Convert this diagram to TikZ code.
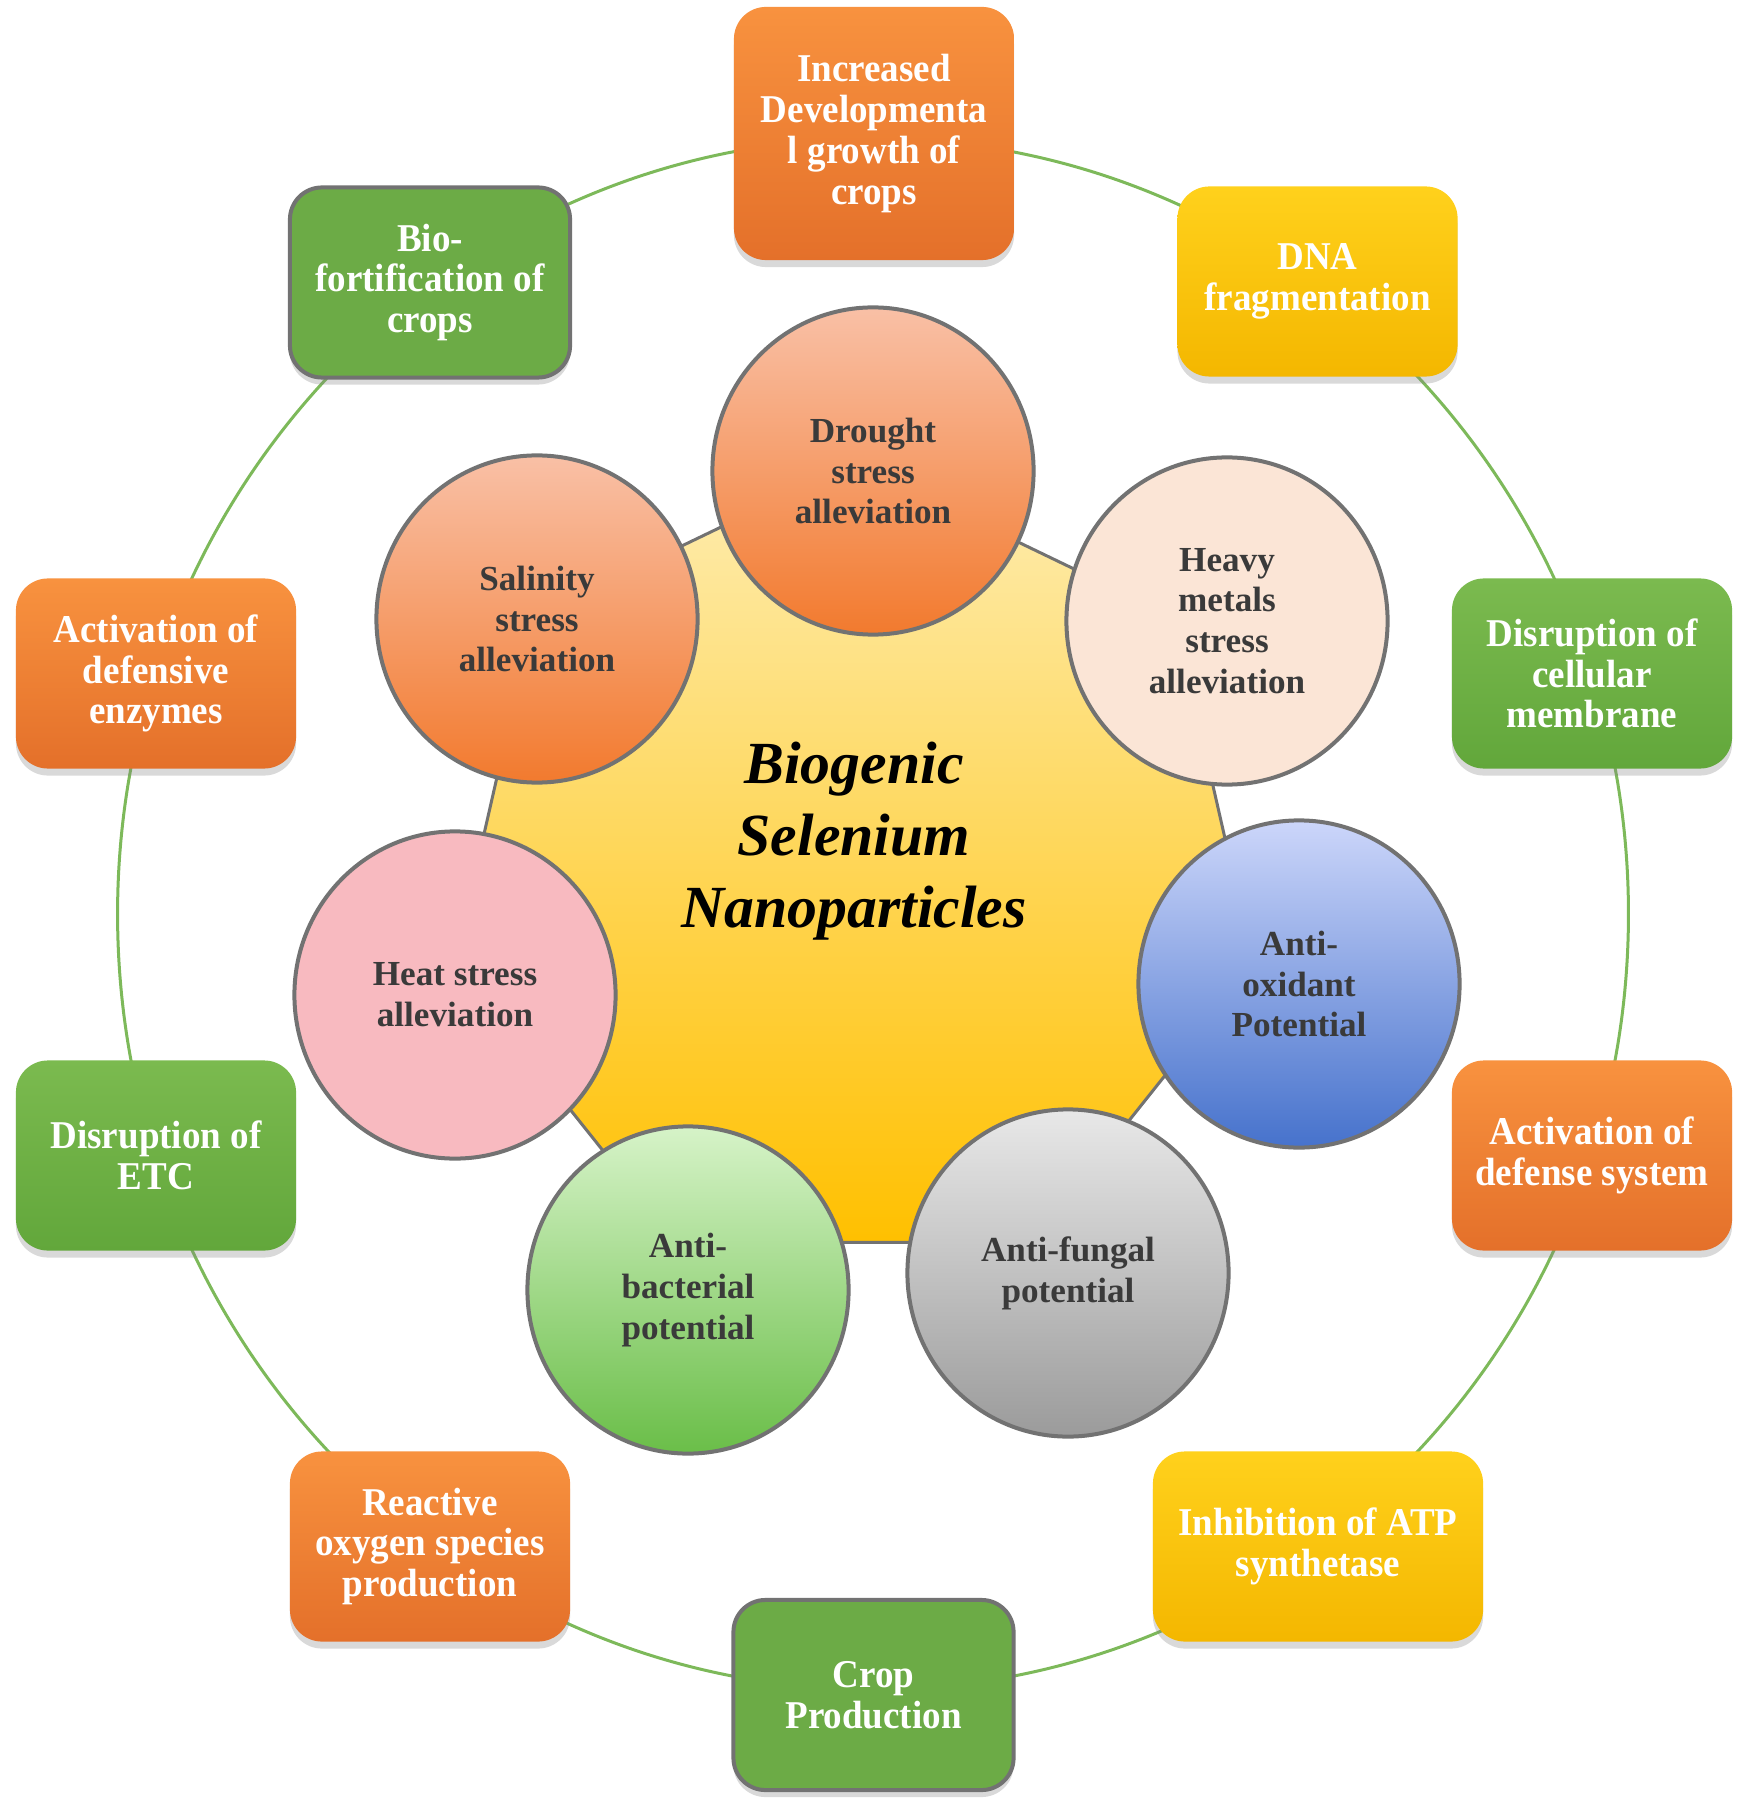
\documentclass[tikz,border=0pt]{standalone}
\usepackage{fontspec}
\setmainfont{Liberation Serif}
\newfontfamily\boxfont{Liberation Serif}[FakeStretch=0.94]
\usetikzlibrary{shapes.geometric,shadows}

\definecolor{ringgreen}{HTML}{7DB95A}
\definecolor{linegray}{HTML}{727272}
\definecolor{textgray}{HTML}{3A3A3A}
\definecolor{orgtop}{HTML}{F8923F}
\definecolor{orgbot}{HTML}{E4702A}
\definecolor{yeltop}{HTML}{FFD11C}
\definecolor{yelbot}{HTML}{F4B700}
\definecolor{grntop}{HTML}{7BBA4F}
\definecolor{grnbot}{HTML}{62A73B}
\definecolor{grnflat}{HTML}{6CAB46}
\definecolor{coretop}{HTML}{FEEDB2}
\definecolor{corebot}{HTML}{FFC000}
\definecolor{peachtop}{HTML}{F9C0A6}
\definecolor{peachbot}{HTML}{F27A2E}

\tikzset{
    box/.style={rounded corners=0.32cm, minimum width=2.8cm, minimum height=1.9cm,
        inner sep=2pt, align=center, text=white,
        font=\boxfont\bfseries\fontsize{11.2}{11.6}\selectfont,
        drop shadow={shadow xshift=0cm, shadow yshift=-0.07cm, opacity=0.3}},
    orangebox/.style={box, top color=orgtop, bottom color=orgbot},
    yellowbox/.style={box, top color=yeltop, bottom color=yelbot},
    greenbox/.style={box, top color=grntop, bottom color=grnbot},
    greenflat/.style={box, fill=grnflat, draw=linegray, line width=0.04cm},
    bubble/.style={ellipse, draw=linegray, line width=0.04cm, minimum width=3.21cm,
        minimum height=3.27cm, inner sep=0pt, align=center, text=textgray,
        font=\bfseries\fontsize{10}{11.6}\selectfont},
    core/.style={top color=coretop, bottom color=corebot, draw=linegray, line width=0.03cm}
}

\begin{document}
\begin{tikzpicture}[x=0.01cm, y=0.01cm]
        \useasboundingbox (0, 0) rectangle (1750, -1798);

        \coordinate (hub) at (873, -914);
        \draw[ringgreen, line width=0.03cm] (hub) ellipse [x radius=7.55cm, y radius=7.75cm];

        \node[orangebox, minimum height=2.53cm] (b1) at (874, -133.5) {Increased\\Developmenta\\l growth of\\crops};
        \node[yellowbox] (b2) at (1317.5, -281.5) {DNA\\fragmentation};
        \node[greenbox] (b3) at (1592, -673.5) {Disruption of\\cellular\\membrane};
        \node[orangebox] (b4) at (1592, -1155.5) {Activation of\\defense system};
        \node[yellowbox, minimum width=3.3cm] (b5) at (1318, -1546.5) {Inhibition of ATP\\synthetase};
        \node[greenflat] (b6) at (873.5, -1695) {Crop\\Production};
        \node[orangebox] (b7) at (430, -1546.5) {Reactive\\oxygen species\\production};
        \node[greenbox] (b8) at (156, -1155.5) {Disruption of\\ETC};
        \node[orangebox] (b9) at (156, -673.5) {Activation of\\defensive\\enzymes};
        \node[greenflat] (b10) at (430, -282.5) {Bio-\\fortification of\\crops};

        \begin{scope}[shift={(854, -873)}]
            \shade[core] (90:410) \foreach \a in {1,...,6} { -- ({90+\a*360/7}:410) } -- cycle;
        \end{scope}

        \node[bubble, top color=peachtop, bottom color=peachbot] (c1) at (873, -471) {Drought\\stress\\alleviation};
        \node[bubble, fill={rgb,255:red,251;green,229;blue,214}] (c2) at (1227, -621) {Heavy\\metals\\stress\\alleviation};
        \node[bubble, top color={rgb,255:red,204;green,214;blue,250}, bottom color={rgb,255:red,70;green,114;blue,204}] (c3) at (1299, -984) {Anti-\\oxidant\\Potential};
        \node[bubble, top color={rgb,255:red,232;green,232;blue,232}, bottom color={rgb,255:red,155;green,155;blue,155}] (c4) at (1068, -1273) {Anti-fungal\\potential};
        \node[bubble, top color={rgb,255:red,214;green,243;blue,200}, bottom color={rgb,255:red,106;green,190;blue,72}] (c5) at (688, -1290) {Anti-\\bacterial\\potential};
        \node[bubble, fill={rgb,255:red,248;green,186;blue,192}] (c6) at (455, -995) {Heat stress\\alleviation};
        \node[bubble, top color=peachtop, bottom color=peachbot] (c7) at (537, -619) {Salinity\\stress\\alleviation};

        \node[align=center, font=\bfseries\itshape\fontsize{17}{20.5}\selectfont] (t0) at (854, -841) {Biogenic\\Selenium\\Nanoparticles};
    \end{tikzpicture}
\end{document}
